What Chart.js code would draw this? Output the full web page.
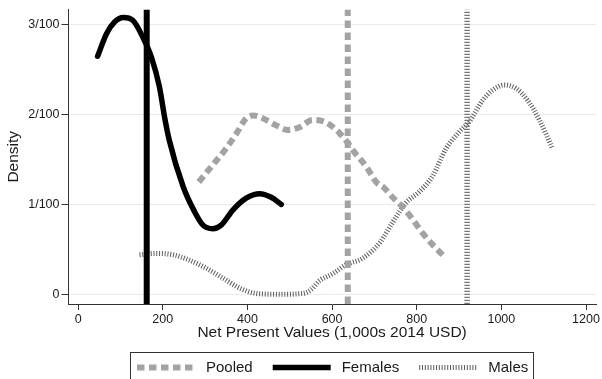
<!DOCTYPE html>
<html>
<head>
<meta charset="utf-8">
<script src="https://cdn.jsdelivr.net/npm/chart.js@4/dist/chart.umd.min.js"></script>
<style>
  html, body { margin: 0; padding: 0; background: #ffffff; }
  #wrap { width: 602px; height: 379px; position: relative; }
</style>
</head>
<body>
<div id="wrap"><canvas id="npv" width="602" height="379"></canvas></div>
<script>
// Kernel densities of net present values (1,000s 2014 USD)
const seriesNames = ['Pooled', 'Females', 'Males'];

const pooledX = [285, 318, 346, 374, 397, 413, 436, 468, 495, 523, 554, 582, 610, 633, 653, 681, 704, 722, 743, 767, 791, 814, 838, 863];
const pooledY = [0.0125, 0.0144, 0.0160, 0.0179, 0.0196, 0.0199, 0.0196, 0.0188, 0.0183, 0.0186, 0.0194, 0.0192, 0.0183, 0.0171, 0.0158, 0.0142, 0.0125, 0.0119, 0.0108, 0.0097, 0.0083, 0.0068, 0.0055, 0.0043];

const femalesX = [46, 67, 86, 107, 129, 153, 173, 192, 205, 215, 248, 275, 295, 318, 338, 366, 397, 429, 456, 480];
const femalesY = [0.0265, 0.0290, 0.0303, 0.0308, 0.0305, 0.0286, 0.0264, 0.0231, 0.0195, 0.0172, 0.0120, 0.0092, 0.0077, 0.0073, 0.0077, 0.0094, 0.0107, 0.0112, 0.0108, 0.0100];

const malesX = [145, 185, 224, 263, 303, 342, 381, 421, 476, 531, 550, 570, 602, 633, 672, 712, 743, 775, 806, 838, 869, 901, 924, 956, 979, 1007, 1035, 1062, 1090, 1121];
const malesY = [0.0044, 0.00455, 0.0044, 0.0038, 0.0029, 0.0018, 0.0007, 0.0001, 0.0000, 0.0001, 0.0005, 0.0015, 0.0023, 0.0033, 0.0040, 0.0057, 0.0080, 0.0102, 0.0114, 0.0132, 0.0162, 0.0181, 0.0192, 0.0216, 0.0227, 0.0233, 0.0229, 0.0216, 0.0194, 0.0162];

// Mean NPV for each group: pooled, females, males
const meanNPV = [637, 162, 919];

const xTicks = [0, 200, 400, 600, 800, 1000, 1200];
const yTicks = [0, 0.01, 0.02, 0.03];
const yTickLabels = ['0', '1/100', '2/100', '3/100'];

const xMin = -24, xMax = 1224;
const yMin = -0.00108, yMax = 0.0317;

const FONT = "'Liberation Sans', Arial, Helvetica, sans-serif";
const TEXT = '#1a1a1a';
const AXIS = '#333333';

// curve styles: pooled dashed, females solid, males hatched
const styles = [
  { color: '#a3a3a3', width: 6, dash: [7.5, 4.5] },
  { color: '#000000', width: 5.5, dash: [] },
  { color: '#5a5a5a', width: 5, dash: [1, 1.8] }
];
// mean-line styles
const meanStyles = [
  { color: '#a3a3a3', width: 6, dash: [7.5, 4.5] },
  { color: '#000000', width: 6, dash: [] },
  { color: '#777777', width: 5.5, dash: [1.2, 1.8] }
];

const pts = (xs, ys) => xs.map((x, i) => ({ x: x, y: ys[i] }));
const vline = (x) => [{ x: x, y: yMin }, { x: x, y: yMax }];

const curves = [pts(pooledX, pooledY), pts(femalesX, femalesY), pts(malesX, malesY)];

const datasets = [];
// mean lines on top
meanNPV.forEach((m, i) => {
  datasets.push({
    label: seriesNames[i] + ' mean',
    data: vline(m),
    borderColor: meanStyles[i].color,
    borderWidth: meanStyles[i].width,
    borderDash: meanStyles[i].dash,
    borderCapStyle: 'butt',
    pointRadius: 0,
    tension: 0,
    fill: false
  });
});
curves.forEach((c, i) => {
  datasets.push({
    label: seriesNames[i],
    data: c,
    borderColor: styles[i].color,
    borderWidth: styles[i].width,
    borderDash: styles[i].dash,
    borderCapStyle: i === 1 ? 'round' : 'butt',
    borderJoinStyle: 'round',
    pointRadius: 0,
    cubicInterpolationMode: 'monotone',
    fill: false
  });
});

// Framed legend drawn under the x-axis title
const framedLegend = {
  id: 'framedLegend',
  afterDraw(chart) {
    const ctx = chart.ctx;
    const top = 352.5, left = 130.5, right = 533.5, bottom = 383;
    const cy = 367.5;
    ctx.save();
    ctx.strokeStyle = AXIS;
    ctx.lineWidth = 1;
    ctx.setLineDash([]);
    ctx.strokeRect(left, top, right - left, bottom - top);
    ctx.font = '15px ' + FONT;
    ctx.fillStyle = TEXT;
    ctx.textBaseline = 'middle';
    let x = 137;
    seriesNames.forEach((name, i) => {
      const s = styles[i];
      ctx.save();
      ctx.strokeStyle = s.color;
      ctx.lineWidth = s.width;
      ctx.lineCap = 'butt';
      ctx.setLineDash(s.dash);
      ctx.beginPath();
      ctx.moveTo(x, cy);
      ctx.lineTo(x + 58, cy);
      ctx.stroke();
      ctx.restore();
      x += 58 + 11;
      ctx.fillText(name, x, cy);
      x += ctx.measureText(name).width + 20;
    });
    ctx.restore();
  }
};

new Chart(document.getElementById('npv'), {
  type: 'line',
  data: { datasets: datasets },
  plugins: [framedLegend],
  options: {
    responsive: false,
    animation: false,
    events: [],
    layout: { padding: { left: 0, right: 5, top: 9, bottom: 31 } },
    plugins: { legend: { display: false }, tooltip: { enabled: false } },
    scales: {
      x: {
        type: 'linear',
        min: xMin,
        max: xMax,
        afterBuildTicks: (s) => { s.ticks = xTicks.map(v => ({ value: v })); },
        afterFit: (s) => { s.height = 44; },
        border: { display: true, color: AXIS, width: 1 },
        grid: { drawOnChartArea: false, drawTicks: true, tickLength: 6, tickColor: AXIS, tickWidth: 1 },
        ticks: {
          color: TEXT,
          font: { family: FONT, size: 12.5 },
          padding: 2,
          maxRotation: 0,
          autoSkip: false,
          callback: (v) => String(v)
        },
        title: {
          display: true,
          text: 'Net Present Values (1,000s 2014 USD)',
          color: TEXT,
          font: { family: FONT, size: 15.5 },
          padding: { top: 0, bottom: 6 }
        }
      },
      y: {
        type: 'linear',
        min: yMin,
        max: yMax,
        afterBuildTicks: (s) => { s.ticks = yTicks.map(v => ({ value: v })); },
        afterFit: (s) => { s.width = 68; },
        border: { display: true, color: AXIS, width: 1 },
        grid: { color: '#e3ecee', lineWidth: 1, drawTicks: true, tickLength: 6.5, tickColor: AXIS, tickWidth: 1 },
        ticks: {
          color: TEXT,
          font: { family: FONT, size: 12.5 },
          padding: 2,
          callback: (v) => { const k = yTicks.indexOf(v); return k >= 0 ? yTickLabels[k] : ''; }
        },
        title: {
          display: true,
          text: 'Density',
          color: TEXT,
          font: { family: FONT, size: 15.5 },
          padding: { top: 4.7, bottom: 0 }
        }
      }
    }
  }
});
</script>
</body>
</html>
